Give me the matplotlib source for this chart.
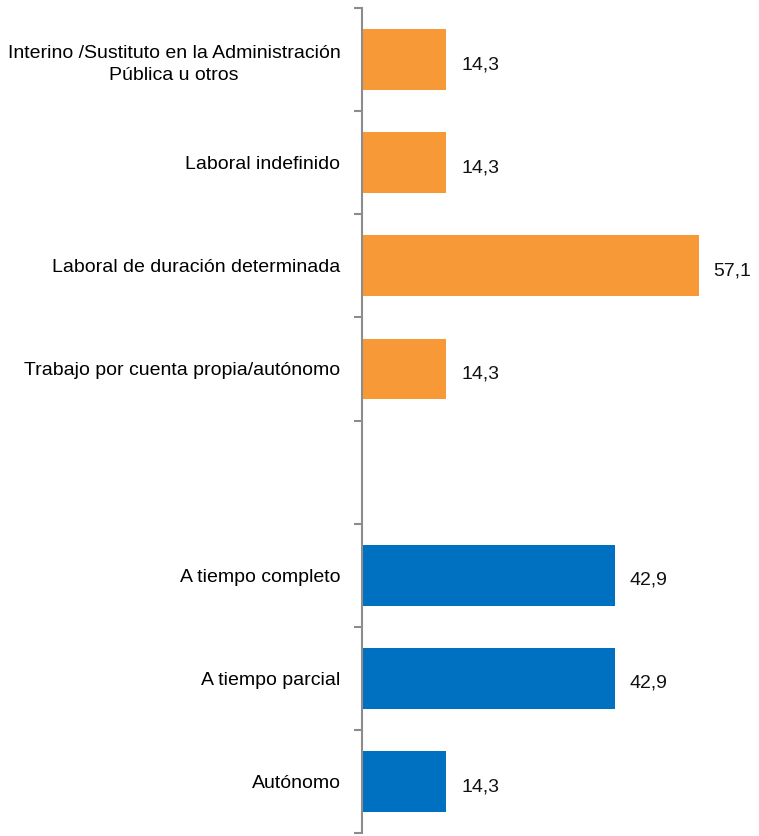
import matplotlib.pyplot as plt
import numpy as np

categories = [
    "Interino /Sustituto en la Administración\nPública u otros",
    "Laboral indefinido",
    "Laboral de duración determinada",
    "Trabajo por cuenta propia/autónomo",
    "",
    "A tiempo completo",
    "A tiempo parcial",
    "Autónomo",
]
values = [14.3, 14.3, 57.1, 14.3, None, 42.9, 42.9, 14.3]
colors = ["#F79937", "#F79937", "#F79937", "#F79937", None, "#0070C0", "#0070C0", "#0070C0"]

plt.rcParams['font.family'] = ['Liberation Sans', 'DejaVu Sans']

W, H = 759, 836
fig = plt.figure(figsize=(W/100, H/100), dpi=100)
left, right, top, bottom = 362, 750, 8, 833
ax = fig.add_axes([left/W, 1 - bottom/H, (right-left)/W, (bottom-top)/H])

ypos = np.arange(len(categories))
for y, v, c in zip(ypos, values, colors):
    if v is None:
        continue
    ax.barh(y, v, height=0.59, color=c, zorder=2)
    ax.text(v + 2.5, y + 0.05, f"{v:.1f}".replace('.', ','), va='center', ha='left',
            fontsize=14, color='#111111')

ax.set_ylim(len(categories) - 0.5, -0.5)
ax.set_xlim(0, (right-left)/5.9)
ax.set_yticks(ypos)
ax.set_yticklabels(categories, fontsize=14, multialignment='center', linespacing=1.45)
ax.tick_params(axis='y', which='major', length=0, pad=15.5)
ax.set_yticks(np.arange(-0.5, len(categories), 1), minor=True)
ax.tick_params(axis='y', which='minor', length=6, width=1.5, color='#8c8c8c')
ax.set_xticks([])
for s in ['top', 'right', 'bottom']:
    ax.spines[s].set_visible(False)
ax.spines['left'].set_color('#8c8c8c')
ax.spines['left'].set_linewidth(1.5)

fig.savefig('out.png', dpi=100)
